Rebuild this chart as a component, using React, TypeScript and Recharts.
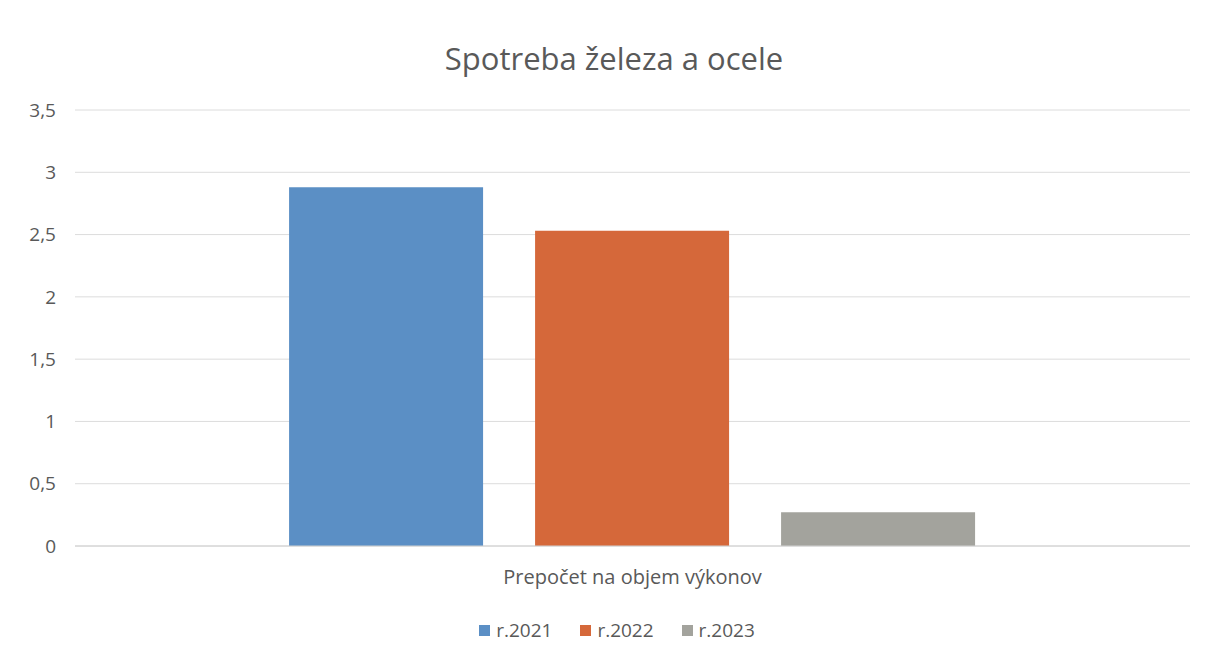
import React from 'react';
import { BarChart, Bar, XAxis, YAxis, CartesianGrid, Legend } from 'recharts';

const categories = ['Prepočet na objem výkonov'];
const seriesNames = ['r.2021', 'r.2022', 'r.2023'];
const values2021 = [2.88];
const values2022 = [2.53];
const values2023 = [0.27];
const yTicks = [0, 0.5, 1, 1.5, 2, 2.5, 3, 3.5];

const colors = ['#5B8FC5', '#D5683A', '#A3A39D'];
const seriesValues = [values2021, values2022, values2023];

const data = categories.map((name, i) => {
  const row: Record<string, string | number> = { name };
  seriesNames.forEach((s, j) => {
    row[s] = seriesValues[j][i];
  });
  return row;
});

const font = '"Open Sans", "Noto Sans", sans-serif';

const renderLegend = (props: any) => {
  const { payload } = props;
  return (
    <div style={{ display: 'flex', justifyContent: 'center', gap: 28, fontFamily: font, fontSize: 19, color: '#595959', lineHeight: '24px' }}>
      {payload.map((p: any) => (
        <div key={p.value} style={{ display: 'flex', alignItems: 'center', gap: 6 }}>
          <span style={{ width: 11, height: 11, background: p.color, display: 'inline-block' }} />
          <span>{p.value}</span>
        </div>
      ))}
    </div>
  );
};

export default function App() {
  return (
    <div style={{ position: 'absolute', left: 0, top: 0, width: 1206, height: 659, background: '#fff' }}>
      <div
        style={{
          position: 'absolute',
          left: 0,
          width: 1228,
          top: 37,
          textAlign: 'center',
          fontFamily: font,
          fontSize: 31,
          color: '#595959',
        }}
      >
        Spotreba železa a ocele
      </div>
      <BarChart
        width={1206}
        height={659}
        data={data}
        margin={{ top: 110, right: 16, bottom: 59, left: 0 }}
        barGap={52}
        barCategoryGap="19.2%"
      >
        <CartesianGrid vertical={false} stroke="#dcdcdc" />
        <XAxis
          dataKey="name"
          height={30}
          axisLine={{ stroke: '#d0d0d0' }}
          tickLine={false}
          tickMargin={18}
          tick={{ fill: '#595959', fontSize: 20, fontFamily: font }}
        />
        <YAxis
          width={75}
          domain={[0, 3.5]}
          ticks={yTicks}
          axisLine={false}
          tickLine={false}
          tickMargin={13}
          tick={{ fill: '#595959', fontSize: 19, fontFamily: font }}
          tickFormatter={(v: number) => String(v).replace('.', ',')}
        />
        <Legend
          content={renderLegend}
          wrapperStyle={{ position: 'absolute', left: 0, width: 1234, height: 24, top: 618 }}
        />
        {seriesNames.map((s, j) => (
          <Bar key={s} dataKey={s} fill={colors[j]} isAnimationActive={false} />
        ))}
      </BarChart>
    </div>
  );
}
